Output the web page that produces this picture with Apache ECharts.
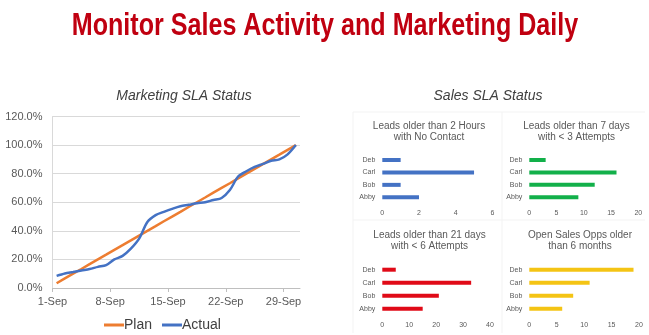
<!DOCTYPE html>
<html>
<head>
<meta charset="utf-8">
<script src="https://cdn.jsdelivr.net/npm/echarts@6/dist/echarts.min.js"></script>
<style>
  html, body { margin: 0; padding: 0; background: #ffffff; }
  #chart { width: 649px; height: 335px; }
</style>
</head>
<body>
<div id="chart"></div>
<script>
// Daily marketing SLA progress (percent of monthly target)
const days = ['1-Sep','2-Sep','3-Sep','4-Sep','5-Sep','6-Sep','7-Sep','8-Sep','9-Sep','10-Sep',
  '11-Sep','12-Sep','13-Sep','14-Sep','15-Sep','16-Sep','17-Sep','18-Sep','19-Sep','20-Sep',
  '21-Sep','22-Sep','23-Sep','24-Sep','25-Sep','26-Sep','27-Sep','28-Sep','29-Sep','30-Sep'];
const plan = [3.3, 6.7, 10.0, 13.3, 16.7, 20.0, 23.3, 26.7, 30.0, 33.3,
  36.7, 40.0, 43.3, 46.7, 50.0, 53.3, 56.7, 60.0, 63.3, 66.7,
  70.0, 73.3, 76.7, 80.0, 83.3, 86.7, 90.0, 93.3, 96.7, 100.0];
const actual = [8.5, 10.2, 11.2, 12.3, 13.3, 14.8, 16.0, 20.0, 22.5, 27.5,
  34.5, 46.2, 51.0, 53.3, 55.4, 57.2, 58.2, 59.3, 60.0, 61.6,
  63.0, 68.5, 78.0, 81.7, 84.7, 86.8, 89.0, 90.0, 93.5, 100.0];
const dayTicks = [0, 7, 14, 21, 28];

// Sales SLA counts per rep (bottom to top)
const reps = ['Abby', 'Bob', 'Carl', 'Deb'];
const noContact2h = [2, 1, 5, 1];
const under3Attempts7d = [9, 12, 16, 3];
const under6Attempts21d = [15, 21, 33, 5];
const openOpps6m = [6, 8, 11, 19];

const panelTitles = [
  ['Leads older than 2 Hours', 'with No Contact'],
  ['Leads older than 7 days', 'with < 3 Attempts'],
  ['Leads older than 21 days', 'with < 6 Attempts'],
  ['Open Sales Opps older', 'than 6 months']
];

const chart = echarts.init(document.getElementById('chart'), null, { renderer: 'canvas' });

const FONT = 'Liberation Sans, Arial, sans-serif';
const GREY = '#595959';

// layout of the four small bar panels
const panels = [
  { left: 382.3, width: 110.1, top: 153.8, height: 49.7, max: 6,  interval: 2,  color: '#4472C4', data: noContact2h,      tx: 429,   ty: 126 },
  { left: 529.3, width: 109.0, top: 153.8, height: 49.7, max: 20, interval: 5,  color: '#12B04A', data: under3Attempts7d, tx: 576.5, ty: 126 },
  { left: 382.3, width: 107.7, top: 263.2, height: 52.0, max: 40, interval: 10, color: '#E00A17', data: under6Attempts21d,tx: 429.5, ty: 235 },
  { left: 529.3, width: 109.7, top: 263.2, height: 52.0, max: 20, interval: 5,  color: '#F4C414', data: openOpps6m,       tx: 580,   ty: 235 }
];

const grids = [{ left: 52.5, top: 116.5, width: 247.5, height: 171.5 }];
const xAxes = [{
  type: 'value', gridIndex: 0, min: 0, max: 30, interval: 7,
  axisLine: { show: true, lineStyle: { color: '#bfbfbf', width: 1 } },
  axisTick: { show: true, length: 4, customValues: dayTicks, lineStyle: { color: '#bfbfbf' } },
  axisLabel: {
    customValues: dayTicks, margin: 8, color: GREY, fontSize: 11, fontFamily: FONT,
    formatter: v => days[Math.round(v)]
  },
  splitLine: { show: false }
}];
const yAxes = [{
  type: 'value', gridIndex: 0, min: 0, max: 120, interval: 20,
  axisLine: { show: true, lineStyle: { color: '#d9d9d9' } },
  axisTick: { show: false },
  axisLabel: { margin: 10, color: GREY, fontSize: 11, fontFamily: FONT, formatter: v => v.toFixed(1) + '%' },
  splitLine: { show: true, lineStyle: { color: '#d9d9d9', width: 1 } }
}];
const series = [
  {
    name: 'Plan', type: 'line', xAxisIndex: 0, yAxisIndex: 0, symbol: 'none',
    lineStyle: { color: '#ED7D31', width: 2.5 }, itemStyle: { color: '#ED7D31' },
    data: plan.map((v, i) => [i + 0.5, v]), z: 2
  },
  {
    name: 'Actual', type: 'line', xAxisIndex: 0, yAxisIndex: 0, symbol: 'none', smooth: 0.3,
    lineStyle: { color: '#4472C4', width: 2.5 }, itemStyle: { color: '#4472C4' },
    data: actual.map((v, i) => [i + 0.5, v]), z: 3
  }
];

panels.forEach((p, k) => {
  const gi = k + 1;
  grids.push({ left: p.left, top: p.top, width: p.width, height: p.height });
  xAxes.push({
    type: 'value', gridIndex: gi, min: 0, max: p.max, interval: p.interval,
    axisLine: { show: false }, axisTick: { show: false }, splitLine: { show: false },
    axisLabel: { margin: 6, color: GREY, fontSize: 7, fontFamily: FONT }
  });
  yAxes.push({
    type: 'category', gridIndex: gi, data: reps,
    axisLine: { show: false }, axisTick: { show: false },
    axisLabel: { margin: 7, color: GREY, fontSize: 7, fontFamily: FONT }
  });
  series.push({
    type: 'bar', xAxisIndex: gi, yAxisIndex: gi, barWidth: 4,
    itemStyle: { color: p.color }, data: p.data
  });
});

const graphics = [
  // faint panel dividers
  { type: 'line', shape: { x1: 353, y1: 112, x2: 353, y2: 333 }, style: { stroke: '#f3f3f3', lineWidth: 1 } },
  { type: 'line', shape: { x1: 502, y1: 112, x2: 502, y2: 333 }, style: { stroke: '#f3f3f3', lineWidth: 1 } },
  { type: 'line', shape: { x1: 353, y1: 112, x2: 645, y2: 112 }, style: { stroke: '#f3f3f3', lineWidth: 1 } },
  { type: 'line', shape: { x1: 353, y1: 220, x2: 645, y2: 220 }, style: { stroke: '#f3f3f3', lineWidth: 1 } },
  // headings (main heading set in a condensed cut)
  { type: 'text', x: 325, y: 26, scaleX: 0.81, style: { text: 'Monitor Sales Activity and Marketing Daily', fill: '#C00010',
      font: 'bold 31px "Liberation Sans Narrow", "Liberation Sans", Arial, sans-serif', textAlign: 'center', textVerticalAlign: 'middle' } },
  { type: 'text', x: 184, y: 96, style: { text: 'Marketing SLA Status', fill: '#404040',
      font: 'italic 14px ' + FONT, textAlign: 'center', textVerticalAlign: 'middle' } },
  { type: 'text', x: 488, y: 96, style: { text: 'Sales SLA Status', fill: '#404040',
      font: 'italic 14px ' + FONT, textAlign: 'center', textVerticalAlign: 'middle' } }
];
panels.forEach((p, k) => {
  panelTitles[k].forEach((line, j) => {
    graphics.push({ type: 'text', x: p.tx, y: p.ty + j * 11.5, style: { text: line, fill: GREY,
      font: '10px ' + FONT, textAlign: 'center', textVerticalAlign: 'middle' } });
  });
});

chart.setOption({
  animation: false,
  backgroundColor: '#ffffff',
  grid: grids,
  xAxis: xAxes,
  yAxis: yAxes,
  series: series,
  legend: {
    data: ['Plan', 'Actual'], left: 99, top: 313, itemWidth: 20, itemHeight: 3, itemGap: 10,
    icon: 'rect',
    textStyle: { color: '#404040', fontSize: 14, fontFamily: FONT, padding: [0, 0, 0, -5] }
  },
  graphic: graphics
});
</script>
</body>
</html>
